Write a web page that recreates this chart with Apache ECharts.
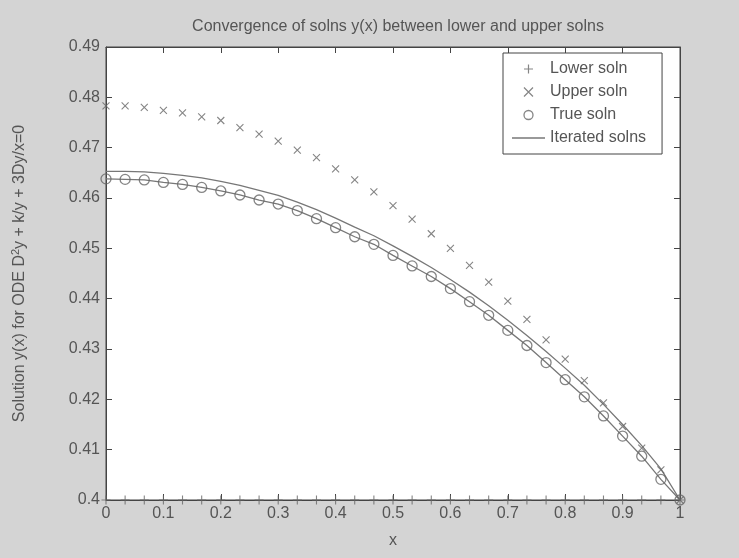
<!DOCTYPE html>
<html><head><meta charset="utf-8">
<script src="https://cdn.jsdelivr.net/npm/echarts@6/dist/echarts.min.js"></script>
<style>html,body{margin:0;padding:0;background:#d4d4d4;} #c{width:739px;height:558px;}</style>
</head><body><div id="c"></div>
<script>
const xValues = [0,0.0333,0.0667,0.1,0.1333,0.1667,0.2,0.2333,0.2667,0.3,0.3333,0.3667,0.4,0.4333,0.4667,0.5,0.5333,0.5667,0.6,0.6333,0.6667,0.7,0.7333,0.7667,0.8,0.8333,0.8667,0.9,0.9333,0.9667,1];
const lowerSoln = [0.4,0.4,0.4,0.4,0.4,0.4,0.4,0.4,0.4,0.4,0.4,0.4,0.4,0.4,0.4,0.4,0.4,0.4,0.4,0.4,0.4,0.4,0.4,0.4,0.4,0.4,0.4,0.4,0.4,0.4,0.4];
const upperSoln = [0.4783,0.4783,0.4780,0.4774,0.4769,0.4761,0.4754,0.4740,0.4727,0.4713,0.4695,0.4680,0.4658,0.4636,0.4612,0.4585,0.4558,0.4529,0.4500,0.4466,0.4433,0.4395,0.4359,0.4318,0.4280,0.4237,0.4193,0.4146,0.4103,0.4060,0.4000];
const trueSoln = [0.4638,0.4637,0.4636,0.4631,0.4627,0.4621,0.4614,0.4606,0.4596,0.4588,0.4575,0.4559,0.4541,0.4523,0.4508,0.4486,0.4465,0.4444,0.4420,0.4394,0.4367,0.4337,0.4307,0.4273,0.4239,0.4205,0.4167,0.4127,0.4087,0.4041,0.4000];
const iteratedSolnA = [0.4653,0.4653,0.4652,0.4649,0.4645,0.4640,0.4633,0.4625,0.4615,0.4605,0.4592,0.4577,0.4560,0.4542,0.4525,0.4505,0.4484,0.4462,0.4438,0.4413,0.4386,0.4357,0.4327,0.4295,0.4262,0.4228,0.4190,0.4150,0.4108,0.4062,0.4000];
const iteratedSolnB = [0.4638,0.4637,0.4636,0.4631,0.4627,0.4621,0.4614,0.4606,0.4596,0.4588,0.4575,0.4559,0.4541,0.4523,0.4508,0.4486,0.4465,0.4444,0.4420,0.4394,0.4367,0.4337,0.4307,0.4273,0.4239,0.4205,0.4167,0.4127,0.4087,0.4041,0.4000];
const xTickLabels = ['0','0.1','0.2','0.3','0.4','0.5','0.6','0.7','0.8','0.9','1'];
const yTickLabels = ['0.4','0.41','0.42','0.43','0.44','0.45','0.46','0.47','0.48','0.49'];

const FONT = "'Liberation Sans', Arial, sans-serif";
const TXT = '#555';
const AX = '#444';
const MK = '#666';
const plusPath = 'path://M4,0L4,8M0,4L8,4';
const crossPath = 'path://M0,0L6,6M0,6L6,0';
const pts = arr => xValues.map((x, i) => [x, arr[i]]);
const xLab = v => xTickLabels[Math.round(v * 10)];
const yLab = v => yTickLabels[Math.round((v - 0.4) * 100)];

const chart = echarts.init(document.getElementById('c'), null, {renderer: 'canvas'});
chart.setOption({
  backgroundColor: '#d4d4d4',
  animation: false,
  textStyle: {fontFamily: FONT},
  title: {
    text: 'Convergence of solns y(x) between lower and upper solns',
    left: 393, top: 14, textAlign: 'center',
    textStyle: {fontFamily: FONT, fontSize: 16, fontWeight: 'normal', color: TXT}
  },
  grid: {left: 106, right: 59, top: 47, bottom: 58, show: true, backgroundColor: '#fff', borderColor: AX, borderWidth: 1},
  xAxis: [{
    type: 'value', min: 0, max: 1, interval: 0.1, position: 'bottom',
    name: 'x', nameLocation: 'middle', nameGap: 33,
    nameTextStyle: {fontFamily: FONT, fontSize: 16, color: TXT},
    axisLine: {show: true, onZero: false, lineStyle: {color: AX}},
    axisTick: {show: true, inside: true, length: 6, lineStyle: {color: AX}},
    axisLabel: {formatter: xLab, margin: 6, fontFamily: FONT, fontSize: 16, color: TXT},
    splitLine: {show: false}
  }, {
    type: 'value', min: 0, max: 1, interval: 0.1, position: 'top',
    axisLine: {show: true, onZero: false, lineStyle: {color: AX}},
    axisTick: {show: true, inside: true, length: 6, lineStyle: {color: AX}},
    axisLabel: {show: false}, splitLine: {show: false}
  }],
  yAxis: [{
    type: 'value', min: 0.4, max: 0.49, interval: 0.01, position: 'left',
    name: '{a|Solution y(x) for ODE D}{s|2}{a|y + k/y + 3Dy/x=0}',
    nameLocation: 'middle', nameGap: 77, nameRotate: 90,
    nameTextStyle: {
      color: TXT,
      rich: {
        a: {fontFamily: FONT, fontSize: 16, color: TXT},
        s: {fontFamily: FONT, fontSize: 11, color: TXT, verticalAlign: 'top', padding: [0, 0, 8, 0]}
      }
    },
    axisLine: {show: true, onZero: false, lineStyle: {color: AX}},
    axisTick: {show: true, inside: true, length: 6, lineStyle: {color: AX}},
    axisLabel: {formatter: yLab, margin: 6, fontFamily: FONT, fontSize: 16, color: TXT},
    splitLine: {show: false}
  }, {
    type: 'value', min: 0.4, max: 0.49, interval: 0.01, position: 'right',
    axisLine: {show: true, onZero: false, lineStyle: {color: AX}},
    axisTick: {show: true, inside: true, length: 6, lineStyle: {color: AX}},
    axisLabel: {show: false}, splitLine: {show: false}
  }],
  legend: {
    orient: 'vertical', left: 503, top: 53, padding: [8, 16, 8, 9],
    itemWidth: 33, itemHeight: 9, itemGap: 7,
    backgroundColor: '#fff', borderColor: AX, borderWidth: 1, borderRadius: 0,
    textStyle: {fontFamily: FONT, fontSize: 16, color: TXT, lineHeight: 14},
    data: [
      {name: 'Lower soln', icon: plusPath, itemStyle: {color: 'rgba(0,0,0,0)', borderColor: MK, borderWidth: 1.2}},
      {name: 'Upper soln', icon: crossPath, itemStyle: {color: 'rgba(0,0,0,0)', borderColor: MK, borderWidth: 1.2}},
      {name: 'True soln', icon: 'circle', itemStyle: {color: 'rgba(0,0,0,0)', borderColor: MK, borderWidth: 1.3}},
      {name: 'Iterated solns', icon: 'path://M0,0L33,0L33,1.4L0,1.4Z', itemStyle: {color: '#777', borderWidth: 0}}
    ]
  },
  series: [
    {name: 'Iterated solns', type: 'line', data: pts(iteratedSolnA), showSymbol: false, symbol: 'none', clip: false,
     lineStyle: {color: '#777', width: 1.3}, itemStyle: {color: '#777'}, z: 2},
    {name: 'Iterated solns', type: 'line', data: pts(iteratedSolnB), showSymbol: false, symbol: 'none', clip: false,
     lineStyle: {color: '#777', width: 1.3}, itemStyle: {color: '#777'}, z: 2},
    {name: 'Lower soln', type: 'scatter', data: pts(lowerSoln), symbol: plusPath, symbolSize: 9, clip: false,
     itemStyle: {color: 'rgba(0,0,0,0)', borderColor: MK, borderWidth: 1.1}, z: 3},
    {name: 'Upper soln', type: 'scatter', data: pts(upperSoln), symbol: crossPath, symbolSize: 7, clip: false,
     itemStyle: {color: 'rgba(0,0,0,0)', borderColor: MK, borderWidth: 1.1}, z: 3},
    {name: 'True soln', type: 'scatter', data: pts(trueSoln), symbol: 'circle', symbolSize: 10, clip: false,
     itemStyle: {color: 'rgba(0,0,0,0)', borderColor: MK, borderWidth: 1.3}, z: 3}
  ]
});
</script></body></html>
